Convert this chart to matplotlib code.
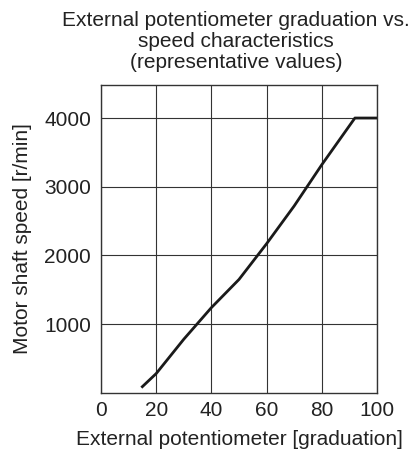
import matplotlib
matplotlib.use('Agg')
import matplotlib.pyplot as plt

plt.rcParams['font.family'] = ['Liberation Sans', 'DejaVu Sans']

grad = [15, 20, 30, 40, 50, 60, 70, 80, 92, 100]
speed = [90, 280, 780, 1240, 1650, 2170, 2720, 3320, 4000, 4000]
xticks = [0, 20, 40, 60, 80, 100]
yticks = [1000, 2000, 3000, 4000]

fig = plt.figure(figsize=(4.12, 4.5), dpi=100)
ax = fig.add_axes([0.245, 0.127, 0.67, 0.684])
ax.plot(grad, speed, color='#1a1a1a', lw=2)
ax.set_xlim(0, 100)
ax.set_ylim(0, 4480)
ax.set_xticks(xticks)
ax.set_yticks(yticks)
ax.grid(True, color='#333333', lw=0.8)
for s in ax.spines.values():
    s.set_color('#333333')
    s.set_linewidth(1.0)
ax.tick_params(axis='x', length=0, labelsize=15, pad=6, colors='#222222')
ax.tick_params(axis='y', length=0, labelsize=15, pad=7, colors='#222222')
ax.set_xlabel('External potentiometer [graduation]', fontsize=15, color='#222222', labelpad=7)
ax.set_ylabel('Motor shaft speed [r/min]', fontsize=15, color='#222222', labelpad=9)
ax.set_title('External potentiometer graduation vs.\nspeed characteristics\n(representative values)',
             fontsize=15, color='#222222', pad=12, linespacing=1.15, x=0.49)
fig.savefig('out.png', dpi=100)
